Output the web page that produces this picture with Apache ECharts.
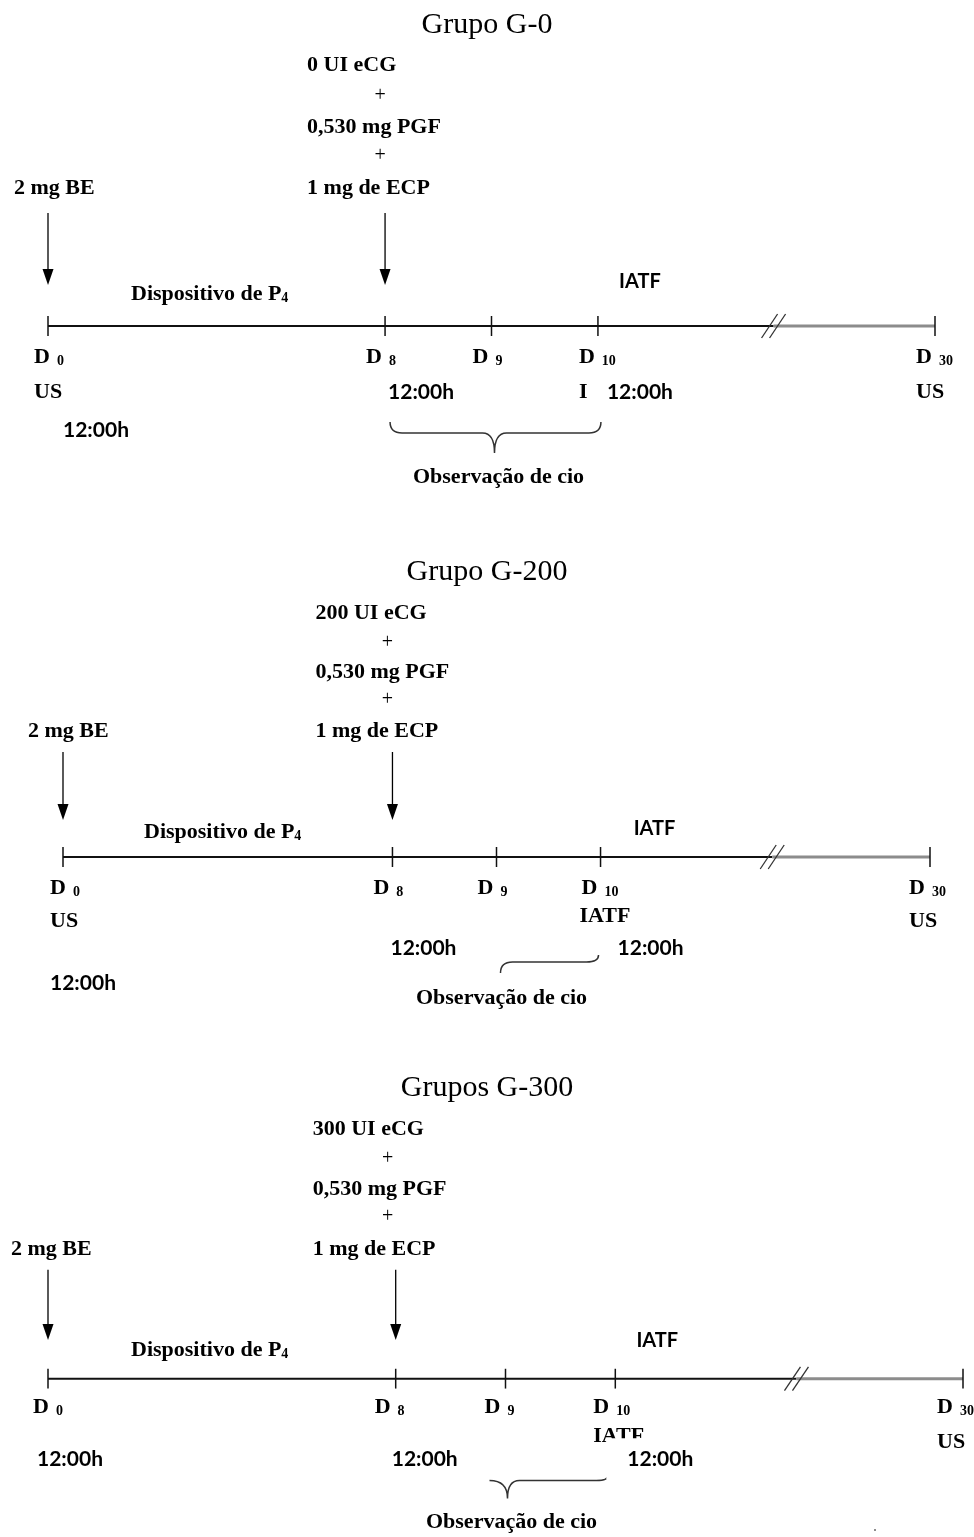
<!DOCTYPE html>
<html>
<head>
<meta charset="utf-8">
<script src="https://cdn.jsdelivr.net/npm/echarts@6/dist/echarts.min.js"></script>
<style>html,body{margin:0;padding:0;background:#fff}#c{width:974px;height:1537px}</style>
</head>
<body>
<div id="c"></div>
<script>
// ---------------- data ----------------
const groupTitles = ['Grupo G-0', 'Grupo G-200', 'Grupos G-300'];
const eCGDoses = ['0 UI eCG', '200 UI eCG', '300 UI eCG'];
const otherDrugs = ['0,530 mg PGF', '1 mg de ECP'];
const startDrug = '2 mg BE';
const deviceLabel = 'Dispositivo de P';
const deviceSub = '4';
const dayNumbers = ['0', '8', '9', '10', '30'];
const dayPositions = [0, 38, 50, 62, 100];   // schematic axis positions of D0, D8, D9, D10, D30
const breakPosition = 81.8;                  // axis break (//) position
const aiLabel = 'IATF';
const usLabel = 'US';
const timeLabel = '12:00h';
const heatLabel = 'Observação de cio';

// ---------------- layout (pixels) ----------------
const layout = [
  { tl: 326, left: 48, width: 887, titleTop: 10,
    doseRows: [-261, -230, -199, -170, -138], doseDx: -78, plusDx: -5, beDx: -34,
    arrow: [-113, -41], devDx: 83, devDy: -34, iatfDx: 42, iatfDy: -44,
    dRow: 30, dDx: [-14, -19, -19, -19, -19],
    below: [
      { t: usLabel, d: 0, dx: -14, dy: 66, f: 'serif' },
      { t: timeLabel, d: 1, dx: 3, dy: 66, f: 'sans' },
      { t: 'I', d: 3, dx: -19, dy: 66, f: 'serif' },
      { t: timeLabel, d: 3, dx: 9, dy: 66, f: 'sans' },
      { t: usLabel, d: 4, dx: -19, dy: 66, f: 'serif' },
      { t: timeLabel, d: 0, dx: 15, dy: 104, f: 'sans' }
    ],
    brace: { half: false, d1: 1, dx1: 5, dm: 2, dxm: 3, d2: 3, dx2: 3, yT: 96, yL: 107, yP: 127 },
    obs: { dx: 7, dy: 151 } },
  { tl: 857, left: 63, width: 867, titleTop: 557,
    doseRows: [-244, -214, -185, -157, -126], doseDx: -77, plusDx: -5, beDx: -35,
    arrow: [-105, -37], devDx: 81, devDy: -27, iatfDx: 54, iatfDy: -28,
    dRow: 30, dDx: [-13, -19, -19, -19, -21],
    below: [
      { t: usLabel, d: 0, dx: -13, dy: 64, f: 'serif' },
      { t: aiLabel, d: 3, dx: -21, dy: 59, f: 'serif' },
      { t: usLabel, d: 4, dx: -21, dy: 64, f: 'serif' },
      { t: timeLabel, d: 1, dx: -2, dy: 91, f: 'sans' },
      { t: timeLabel, d: 3, dx: 17, dy: 91, f: 'sans' },
      { t: timeLabel, d: 0, dx: -13, dy: 126, f: 'sans' }
    ],
    brace: { half: true, stub: false, dm: 2, dxm: 4, d2: 3, dx2: -2, yT: 98, yL: 105, yP: 116 },
    obs: { dx: 5, dy: 141 } },
  { tl: 1382, left: 48, width: 915, titleTop: 1073,
    doseRows: [-252, -222, -191, -164, -131], doseDx: -83, plusDx: -8, beDx: -37,
    arrow: [-110, -39], devDx: 83, devDy: -31, iatfDx: 42, iatfDy: -39,
    dRow: 28, dDx: [-15, -21, -21, -22, -26],
    below: [
      { t: aiLabel, d: 3, dx: -22, dy: 58, f: 'serif' },
      { t: usLabel, d: 4, dx: -26, dy: 64, f: 'serif' },
      { t: timeLabel, d: 0, dx: -11, dy: 81, f: 'sans' },
      { t: timeLabel, d: 1, dx: -4, dy: 81, f: 'sans' },
      { t: timeLabel, d: 3, dx: 12, dy: 81, f: 'sans', cover: true }
    ],
    brace: { half: true, stub: true, dm: 2, dxm: 2, d2: 3, dx2: -7, yT: 97, yL: 103, yP: 121 },
    obs: { dx: 6, dy: 145 } }
];

const SERIF = '"Liberation Serif", "Times New Roman", serif';
const SANS = 'Lato, "Open Sans", sans-serif';
const serifB = s => `bold ${s}px ${SERIF}`;
const sansB = s => `bold ${s}px ${SANS}`;

function buildSpecs(g) {
  const L = layout[g];
  const S = [];
  const D = i => dayPositions[i];
  const doseLines = [eCGDoses[g], '+', otherDrugs[0], '+', otherDrugs[1]];
  doseLines.forEach((t, i) => {
    const plus = t === '+';
    S.push({ kind: 'text', x: D(1), y: L.doseRows[i], dx: plus ? L.plusDx : L.doseDx, text: t,
      font: plus ? `20px ${SERIF}` : serifB(22), align: plus ? 'center' : 'left' });
  });
  S.push({ kind: 'text', x: D(0), y: L.doseRows[4], dx: L.beDx, text: startDrug, font: serifB(22) });
  [0, 1].forEach(i => S.push({ kind: 'arrow', x: D(i), y: L.arrow[0], y2: L.arrow[1] }));
  S.push({ kind: 'text', x: D(0), y: L.devDy, dx: L.devDx,
    text: `{t|${deviceLabel}}{s|${deviceSub}}`,
    rich: { t: { fontFamily: SERIF, fontWeight: 'bold', fontSize: 22, lineHeight: 26, verticalAlign: 'bottom' },
            s: { fontFamily: SERIF, fontWeight: 'bold', fontSize: 14, lineHeight: 12, verticalAlign: 'bottom' } } });
  S.push({ kind: 'text', x: D(3), y: L.iatfDy, dx: L.iatfDx, text: aiLabel, font: sansB(20), align: 'center' });
  S.push({ kind: 'seg', x: D(0), y: 0, x2: breakPosition, y2: 0, w: 2, color: '#111' });
  S.push({ kind: 'seg', x: breakPosition, y: 0, x2: D(4), y2: 0, w: 3, color: '#8c8c8c' });
  [-4, 4].forEach(o => S.push({ kind: 'seg', x: breakPosition, y: 12, dx1: o - 8, x2: breakPosition, y2: -12, dx2: o + 8, w: 1.3, color: '#333' }));
  dayPositions.forEach((p, i) => {
    S.push({ kind: 'seg', x: p, y: -10, x2: p, y2: 10, w: 1.5, color: '#111' });
    S.push({ kind: 'text', x: p, y: L.dRow, dx: L.dDx[i], text: `{d|D}{s|${dayNumbers[i]}}`,
      rich: { d: { fontFamily: SERIF, fontWeight: 'bold', fontSize: 22, lineHeight: 24, verticalAlign: 'bottom' },
              s: { fontFamily: SERIF, fontWeight: 'bold', fontSize: 14, lineHeight: 10, verticalAlign: 'bottom', padding: [0, 0, 0, 7] } } });
  });
  L.below.forEach(b => {
    const it = { kind: 'text', x: D(b.d), y: b.dy, dx: b.dx, text: b.t, font: b.f === 'serif' ? serifB(22) : sansB(21) };
    if (b.cover) { it.bg = '#fff'; it.pad = [17, 4, 4, 21]; it.lh = 20; it.dx -= 21; it.z = 20; }
    S.push(it);
  });
  const B = L.brace;
  S.push(Object.assign({ kind: 'brace', x: D(B.dm), y: B.yL }, B, {
    x1: B.half ? null : D(B.d1), xm: D(B.dm), x2: D(B.d2) }));
  S.push({ kind: 'text', x: D(2), y: L.obs.dy, dx: L.obs.dx, text: heatLabel, font: serifB(22), align: 'center' });
  return S;
}

const specs = layout.map((_, g) => buildSpecs(g));

function makeRender(g) {
  return function (params, api) {
    const s = specs[g][params.dataIndex];
    const p = api.coord([api.value(0), api.value(1)]);
    const c = (x, y) => api.coord([x, y]);
    if (s.kind === 'text') {
      const style = { x: p[0] + (s.dx || 0), y: p[1], text: s.text, fill: '#000',
        align: s.align || 'left', verticalAlign: 'middle' };
      if (s.font) style.font = s.font;
      if (s.rich) style.rich = s.rich;
      if (s.bg) { style.backgroundColor = s.bg; style.padding = s.pad; style.lineHeight = s.lh; }
      return { type: 'text', z2: s.z || 10, style };
    }
    if (s.kind === 'seg') {
      const q = c(s.x2, s.y2);
      return { type: 'line', shape: { x1: p[0] + (s.dx1 || 0), y1: p[1], x2: q[0] + (s.dx2 || 0), y2: q[1] },
        style: { stroke: s.color || '#000', lineWidth: s.w || 1.5 } };
    }
    if (s.kind === 'arrow') {
      const q = c(s.x, s.y2);
      return { type: 'group', children: [
        { type: 'line', shape: { x1: p[0], y1: p[1], x2: q[0], y2: q[1] - 14 }, style: { stroke: '#000', lineWidth: 1.3 } },
        { type: 'polygon', shape: { points: [[q[0] - 5.5, q[1] - 16], [q[0] + 5.5, q[1] - 16], [q[0], q[1]]] }, style: { fill: '#000' } }
      ] };
    }
    if (s.kind === 'brace') {
      const r = 12;
      const yT = c(s.xm, s.yT)[1], yL = c(s.xm, s.yL)[1], yP = c(s.xm, s.yP)[1];
      const xm = c(s.xm, 0)[0] + (s.dxm || 0);
      const x2 = c(s.x2, 0)[0] + (s.dx2 || 0);
      let d;
      const right = `Q ${xm} ${yL} ${xm + r} ${yL} L ${x2 - r} ${yL} Q ${x2} ${yL} ${x2} ${yT}`;
      if (s.half) {
        d = s.stub
          ? `M ${xm - 18} ${yL} Q ${xm} ${yL} ${xm} ${yP} ` + right
          : `M ${xm} ${yP} ` + right;
      } else {
        const x1 = c(s.x1, 0)[0] + (s.dx1 || 0);
        d = `M ${x1} ${yT} Q ${x1} ${yL} ${x1 + r} ${yL} L ${xm - r} ${yL} Q ${xm} ${yL} ${xm} ${yP} ` + right;
      }
      return { type: 'path', shape: { pathData: d }, style: { stroke: '#333', lineWidth: 1.5, fill: null } };
    }
    return null;
  };
}

const option = {
  animation: false,
  backgroundColor: '#fff',
  title: layout.map((L, g) => ({
    text: groupTitles[g], left: 'center', top: L.titleTop, padding: 0,
    textStyle: { fontFamily: SERIF, fontSize: 30, fontWeight: 'normal', color: '#000' }
  })),
  grid: layout.map(L => ({ left: L.left, width: L.width, top: L.tl - 320, height: 480 })),
  xAxis: layout.map((L, g) => ({ gridIndex: g, type: 'value', min: 0, max: 100, show: false })),
  yAxis: layout.map((L, g) => ({ gridIndex: g, type: 'value', min: -320, max: 160, inverse: true, show: false })),
  series: layout.map((L, g) => ({
    type: 'custom', xAxisIndex: g, yAxisIndex: g, clip: false, silent: true,
    renderItem: makeRender(g),
    data: specs[g].map(s => [s.x, s.y])
  })),
  graphic: [{ type: 'circle', shape: { cx: 875, cy: 1530, r: 1 }, style: { fill: '#666' } }]
};

const chart = echarts.init(document.getElementById('c'));
chart.setOption(option);
</script>
</body>
</html>
